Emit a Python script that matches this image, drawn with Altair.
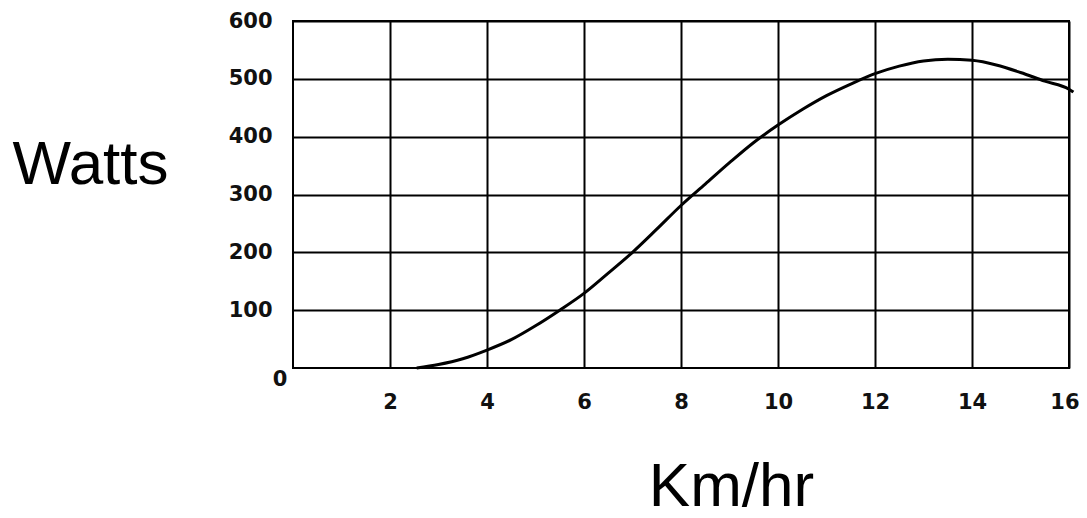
import altair as alt
import pandas as pd

# Curve (speed in km/h, power in watts)
speed = [2.55, 3.0, 3.5, 4.0, 4.5, 5.0, 5.5, 6.0, 6.5, 7.0, 7.5, 8.0, 8.5, 9.0, 9.5,
         10.0, 10.5, 11.0, 11.5, 12.0, 12.5, 13.0, 13.5, 14.0, 14.5, 15.0, 15.5, 16.0, 16.09]
watts = [0, 6, 16, 31, 49, 73, 100, 129, 164, 200, 240, 281, 318, 355, 390,
         420, 447, 471, 491, 509, 522, 531, 534, 532, 524, 511, 496, 482, 477]

x_ticks = [2, 4, 6, 8, 10, 12, 14, 16]
y_ticks = [100, 200, 300, 400, 500, 600]
origin_label = ["0"]

curve = pd.DataFrame({"speed": speed, "watts": watts})
zero = pd.DataFrame({"speed": [0], "watts": [0], "label": origin_label})

LABEL_FONT = "DejaVu Sans"
TITLE_FONT = "Liberation Sans"

x_scale = alt.Scale(domain=[0, 16], nice=False, zero=False)
y_scale = alt.Scale(domain=[0, 600], nice=False)

line = alt.Chart(curve).mark_line(
    color="black", strokeWidth=3, interpolate="monotone"
).encode(
    x=alt.X("speed:Q", scale=x_scale, axis=alt.Axis(
        values=x_ticks, grid=True, gridColor="black", gridWidth=2, gridOpacity=1,
        domain=False, ticks=False, labelFont=LABEL_FONT, labelFontSize=21,
        labelFontWeight="bold", labelColor="#111", labelPadding=23,
        labelBaseline="top", labelFlush=True, labelFlushOffset=10,
        title="Km/hr", titleFont=TITLE_FONT, titleFontSize=62,
        titleFontWeight="normal", titleColor="black", titleAnchor="start",
        titleX=438, titleY=137, titleAlign="center", titleBaseline="alphabetic",
    )),
    y=alt.Y("watts:Q", scale=y_scale, axis=alt.Axis(
        values=y_ticks, grid=True, gridColor="black", gridWidth=2, gridOpacity=1,
        domain=False, ticks=False, labelFont=LABEL_FONT, labelFontSize=21,
        labelFontWeight="bold", labelColor="#111", labelPadding=21,
        labelFlush=False,
        title="Watts", titleFont=TITLE_FONT, titleFontSize=62,
        titleFontWeight="normal", titleColor="black", titleAngle=0,
        titleX=-203, titleY=162, titleAlign="center", titleBaseline="alphabetic",
    )),
)

zero_text = alt.Chart(zero).mark_text(
    font=LABEL_FONT, fontSize=21, fontWeight="bold", color="#111",
    dx=-13, dy=12, align="center", baseline="middle",
).encode(
    x=alt.X("speed:Q", scale=x_scale),
    y=alt.Y("watts:Q", scale=y_scale),
    text="label:N",
)

chart = alt.layer(line, zero_text).properties(
    width=776, height=347,
    autosize=alt.AutoSizeParams(type="none"),
    padding={"left": 285, "top": 13, "right": 10, "bottom": 142},
    background="white",
).configure_view(stroke="black", strokeWidth=2)

chart.save("out.html", embed_options={"renderer": "svg", "actions": False})
